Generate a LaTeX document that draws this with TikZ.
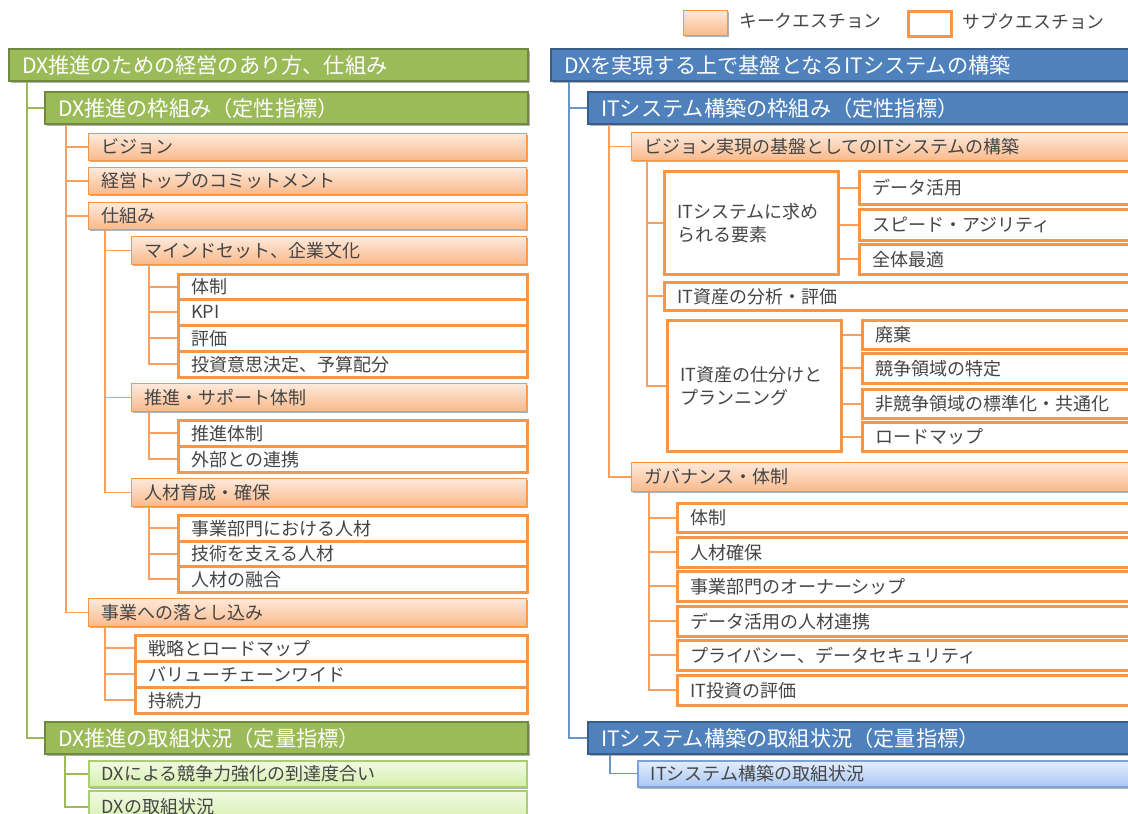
\documentclass[tikz,border=0pt]{standalone}
\usepackage{fontspec}
\setmainfont{Noto Sans CJK JP}
\usetikzlibrary{shadows}
\definecolor{ogBorder}{HTML}{F79646}
\definecolor{ogLine}{HTML}{F8A060}
\definecolor{kTop}{HTML}{FEEADB}
\definecolor{kBot}{HTML}{FAB98A}
\definecolor{gFill}{HTML}{9BBB59}
\definecolor{gBorder}{HTML}{71893F}
\definecolor{bFill}{HTML}{4F81BD}
\definecolor{bBorder}{HTML}{385D8A}
\definecolor{lgTop}{HTML}{F2FAE4}
\definecolor{lgBot}{HTML}{D5EFAB}
\definecolor{lgBorder}{HTML}{A8CF72}
\definecolor{lbTop}{HTML}{E4EEFC}
\definecolor{lbBot}{HTML}{A9C7F4}
\definecolor{lbBorder}{HTML}{7DA2D3}
\definecolor{txt}{HTML}{454545}
\newcommand\bx[7]{%
  \pgfmathsetmacro\bxw{#5-#3}\pgfmathsetmacro\bxh{#6-#4}\pgfmathsetmacro\bxt{#5-#3-26}%
  \node[#1, minimum width=\bxw pt, minimum height=\bxh pt, text width=\bxt pt] (#2) at (#3,#4) {#7};}
\tikzset{
  base/.style={anchor=north west, inner xsep=13pt, inner ysep=0pt, align=left, text=txt, font=\fontsize{18}{23}\selectfont},
  shd/.style={drop shadow={shadow xshift=1.6pt, shadow yshift=-1.8pt, fill=black, opacity=0.3}},
  ghdr/.style={base, shd, fill=gFill, draw=gBorder, line width=2pt, text=white, font=\fontsize{21.2}{25}\selectfont},
  bhdr/.style={base, shd, fill=bFill, draw=bBorder, line width=2pt, text=white, font=\fontsize{21.2}{25}\selectfont},
  key/.style={base, shd, top color=kTop, bottom color=kBot, draw=ogBorder, line width=1pt},
  sub/.style={base, fill=white, draw=ogBorder, line width=2.5pt},
  lgsub/.style={base, shd, top color=lgTop, bottom color=lgBot, draw=lgBorder, line width=1.5pt},
  lbsub/.style={base, shd, top color=lbTop, bottom color=lbBot, draw=lbBorder, line width=1.5pt},
  lbl/.style={anchor=west, inner sep=0pt, text=txt, font=\fontsize{17.8}{20}\selectfont},
  ol/.style={draw=ogLine, line width=1.6pt},
  gl/.style={draw=gFill, line width=1.6pt},
  bl/.style={draw=bFill!85!white, line width=1.4pt},
}
\begin{document}
\begin{tikzpicture}[x=1pt,y=-1pt]
\useasboundingbox (0,0) rectangle (1128,814);
\clip (0,0) rectangle (1128,814);
\fill[white] (0,0) rectangle (1128,814);
% legend
\bx{key}{LK}{683}{10}{727}{35}{}
\node[lbl] (LKt) at (739,21) {キークエスチョン};
\bx{sub}{LS}{907}{10}{950}{35}{}
\node[lbl] (LSt) at (962,21) {サブクエスチョン};
% ---------------- left ----------------
\bx{ghdr}{G1}{8}{48}{527}{80}{DX推進のための経営のあり方、仕組み}
\bx{ghdr}{G2}{44}{91}{527}{123}{DX推進の枠組み（定性指標）}
\bx{key}{K1}{88}{133}{526}{160}{ビジョン}
\bx{key}{K2}{88}{167}{526}{194}{経営トップのコミットメント}
\bx{key}{K3}{88}{202}{526}{229}{仕組み}
\bx{key}{K31}{131}{236}{526}{264}{マインドセット、企業文化}
\bx{sub}{S311}{177}{273}{526}{298}{体制}
\bx{sub}{S312}{177}{298}{526}{324}{KPI}
\bx{sub}{S313}{177}{324}{526}{350}{評価}
\bx{sub}{S314}{177}{350}{526}{376}{投資意思決定、予算配分}
\bx{key}{K32}{131}{383}{526}{411}{推進・サポート体制}
\bx{sub}{S321}{177}{419}{526}{445}{推進体制}
\bx{sub}{S322}{177}{445}{526}{471}{外部との連携}
\bx{key}{K33}{131}{478}{526}{506}{人材育成・確保}
\bx{sub}{S331}{177}{514}{526}{540}{事業部門における人材}
\bx{sub}{S332}{177}{540}{526}{565}{技術を支える人材}
\bx{sub}{S333}{177}{565}{526}{591}{人材の融合}
\bx{key}{K4}{88}{598}{526}{626}{事業への落とし込み}
\bx{sub}{S41}{134}{634}{526}{660}{戦略とロードマップ}
\bx{sub}{S42}{134}{660}{526}{686}{バリューチェーンワイド}
\bx{sub}{S43}{134}{686}{526}{712}{持続力}
\bx{ghdr}{G3}{44}{721}{527}{753}{DX推進の取組状況（定量指標）}
\bx{lgsub}{L1}{88}{760}{526}{786}{DXによる競争力強化の到達度合い}
\bx{lgsub}{L2}{88}{790}{526}{822}{DXの取組状況}
% left connectors
\foreach \c in {G2,G3} \draw[gl] ([xshift=19pt]G1.south west) |- (\c.west);
\foreach \c in {K1,K2,K3,K4} \draw[ol] ([xshift=22pt]G2.south west) |- (\c.west);
\foreach \c in {K31,K32,K33} \draw[ol] ([xshift=17pt]K3.south west) |- (\c.west);
\foreach \c in {S311,S312,S313,S314} \draw[ol] ([xshift=18pt]K31.south west) |- (\c.west);
\foreach \c in {S321,S322} \draw[ol] ([xshift=18pt]K32.south west) |- (\c.west);
\foreach \c in {S331,S332,S333} \draw[ol] ([xshift=18pt]K33.south west) |- (\c.west);
\foreach \c in {S41,S42,S43} \draw[ol] ([xshift=17pt]K4.south west) |- (\c.west);
\foreach \c in {L1,L2} \draw[gl] ([xshift=21pt]G3.south west) |- (\c.west);
% ---------------- right ----------------
\bx{bhdr}{B1}{550}{48}{1136}{80}{DXを実現する上で基盤となるITシステムの構築}
\bx{bhdr}{B2}{587}{91}{1136}{123}{ITシステム構築の枠組み（定性指標）}
\bx{key}{R1}{631}{132}{1136}{160}{ビジョン実現の基盤としてのITシステムの構築}
\bx{sub}{R11}{663}{170}{837}{273}{ITシステムに求め\\られる要素}
\bx{sub}{R111}{858}{170}{1136}{203}{データ活用}
\bx{sub}{R112}{858}{208}{1136}{239}{スピード・アジリティ}
\bx{sub}{R113}{858}{243}{1136}{273}{全体最適}
\bx{sub}{R12}{663}{281}{1136}{309}{IT資産の分析・評価}
\bx{sub}{R13}{666}{319}{840}{450}{IT資産の仕分けと\\プランニング}
\bx{sub}{R131}{861}{319}{1136}{348}{廃棄}
\bx{sub}{R132}{861}{352}{1136}{382}{競争領域の特定}
\bx{sub}{R133}{861}{388}{1136}{417}{非競争領域の標準化・共通化}
\bx{sub}{R134}{861}{421}{1136}{450}{ロードマップ}
\bx{key}{R2}{631}{462}{1136}{491}{ガバナンス・体制}
\bx{sub}{R21}{676}{502}{1136}{531}{体制}
\bx{sub}{R22}{676}{536}{1136}{566}{人材確保}
\bx{sub}{R23}{676}{570}{1136}{600}{事業部門のオーナーシップ}
\bx{sub}{R24}{676}{605}{1136}{635}{データ活用の人材連携}
\bx{sub}{R25}{676}{639}{1136}{669}{プライバシー、データセキュリティ}
\bx{sub}{R26}{676}{674}{1136}{704}{IT投資の評価}
\bx{bhdr}{B3}{587}{721}{1136}{753}{ITシステム構築の取組状況（定量指標）}
\bx{lbsub}{LB1}{637}{760}{1136}{786}{ITシステム構築の取組状況}
% right connectors
\foreach \c in {B2,B3} \draw[bl] ([xshift=19pt]B1.south west) |- (\c.west);
\foreach \c in {R1,R2} \draw[ol] ([xshift=22pt]B2.south west) |- (\c.west);
\foreach \c in {R11,R12,R13} \draw[ol] ([xshift=16pt]R1.south west) |- (\c.west);
\foreach \c in {R111,R112,R113} \draw[ol] (R11.east |- \c.west) -- (\c.west);
\foreach \c in {R131,R132,R133,R134} \draw[ol] (R13.east |- \c.west) -- (\c.west);
\foreach \c in {R21,R22,R23,R24,R25,R26} \draw[ol] ([xshift=18pt]R2.south west) |- (\c.west);
\draw[bl] ([xshift=23pt]B3.south west) |- (LB1.west);
\end{tikzpicture}
\end{document}
